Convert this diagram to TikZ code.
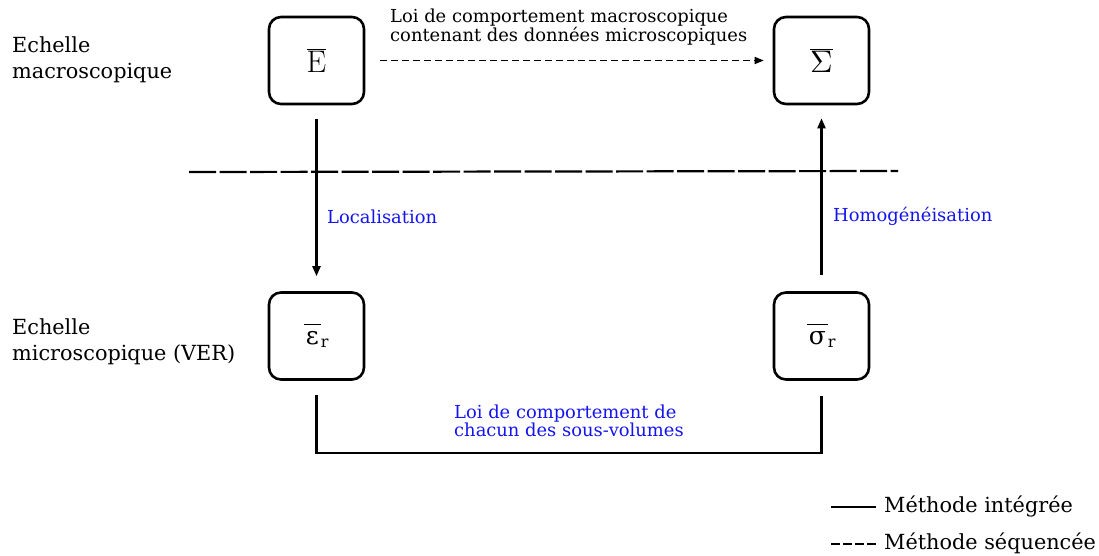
\documentclass[tikz,border=0pt]{standalone}
\usepackage{graphicx}
\usepackage{fontspec}
\setmainfont{DejaVu Serif}
\newfontfamily\lmfont{Latin Modern Roman}
\usetikzlibrary{arrows.meta}
\definecolor{lblblue}{RGB}{20,20,240}
\newcommand{\subr}{\mbox{\fontsize{16}{16}\selectfont r}}
\tikzset{
  varbox/.style={draw, line width=2.6pt, rounded corners=12pt, minimum width=95pt, minimum height=87pt, inner sep=0pt},
  conn/.style={line width=2.1pt},
  arr/.style={conn, -{Triangle[length=10pt,width=8pt]}},
  bigtxt/.style={font=\fontsize{20.8}{26}\selectfont, align=left, anchor=north west, inner sep=0pt},
  smalltxt/.style={font=\fontsize{17.9}{18}\selectfont, align=left, anchor=north west, inner sep=0pt},
  bluetxt/.style={smalltxt, text=lblblue},
}
\begin{document}
\begin{tikzpicture}[x=1pt,y=-1pt]
\useasboundingbox (0,0) rectangle (1099,555);
% boxes
\node[varbox] (E) at (316.5,60.5) {\scalebox{1.3}{$\overline{\mbox{\lmfont\fontsize{24}{24}\selectfont E}}$}};
\node[varbox] (S) at (821.5,60.5) {\scalebox{1.3}{$\overline{\mbox{\scalebox{2.4}{$\Sigma$}}}$}};
\node[varbox] (eps) at (316.5,336) {\fontsize{25}{25}\selectfont$\overline{\mbox{\kern2pt ε\kern2pt}\vphantom{\mbox{E}}}_{\subr}$};
\node[varbox] (sig) at (821.5,336) {\fontsize{25}{25}\selectfont$\overline{\mbox{\kern2pt σ\kern2pt}\vphantom{\mbox{E}}}_{\subr}$};
% scale labels
\node[bigtxt] (macro) at (12,36) {Echelle\\macroscopique};
\node[bigtxt] (micro) at (12,318) {Echelle\\microscopique (VER)};
% separator
\coordinate (sepL) at (189,172);
\coordinate (sepR) at (898,171);
\draw[line width=2.2pt, dash pattern=on 27pt off 3.5pt] (sepL) -- (sepR);
% arrows
\draw[arr, shorten <=14pt, shorten >=15pt] (E.south) -- (eps.north);
\draw[arr, shorten <=16pt, shorten >=13pt] (sig.north) -- (S.south);
\draw[line width=1.6pt, -{Triangle[length=9pt,width=7pt]}, dash pattern=on 7pt off 4pt, shorten <=15pt, shorten >=9pt] (E.east) -- (S.west);
\draw[conn, shorten <=14pt, shorten >=15pt] (eps.south) -- (eps.south |- 0,453) -| (sig.south);
% labels
\node[smalltxt] (toplbl) at (390,9) {Loi de comportement macroscopique\\contenant des données microscopiques};
\node[bluetxt] (loc) at (327,210) {Localisation};
\node[bluetxt] (hom) at (833,207) {Homogénéisation};
\node[bluetxt] (loicomp) at (454,405) {Loi de comportement de\\chacun des sous-volumes};
% legend
\coordinate (l1a) at (831,507);
\coordinate (l1b) at (876,507);
\coordinate (l2a) at (831,544);
\coordinate (l2b) at (876,544);
\draw[conn] (l1a) -- (l1b);
\draw[line width=1.8pt, dash pattern=on 9pt off 3pt] (l2a) -- (l2b);
\node[bigtxt, anchor=west] (leg1) at (884,506) {Méthode intégrée};
\node[bigtxt, anchor=west] (leg2) at (884,543) {Méthode séquencée};
\end{tikzpicture}
\end{document}
